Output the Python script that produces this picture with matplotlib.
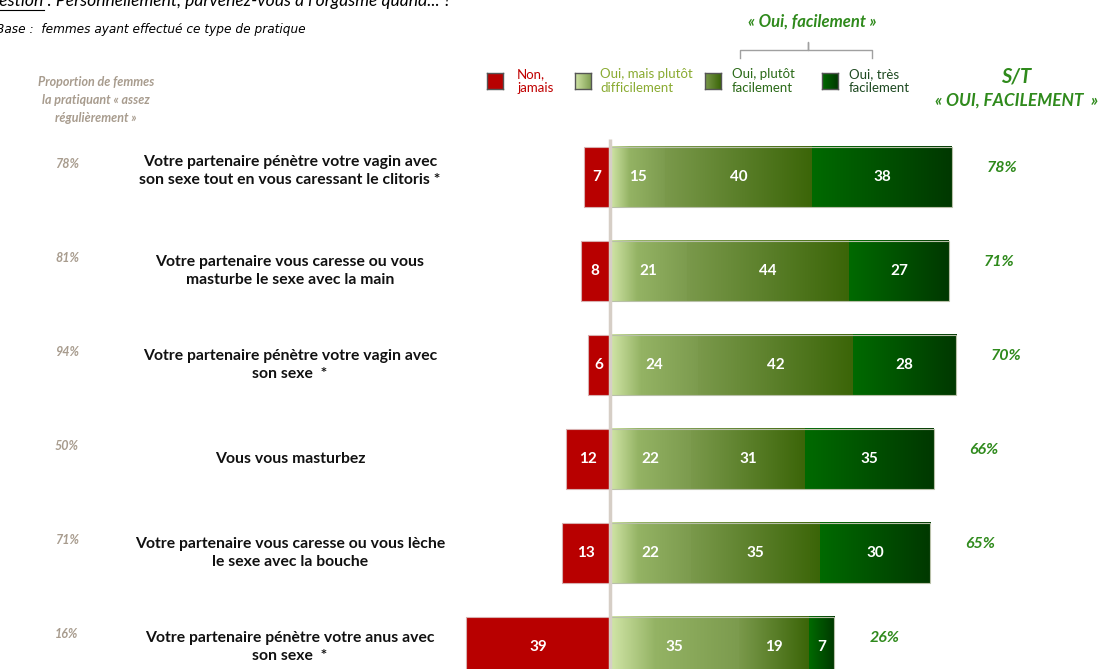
import matplotlib.pyplot as plt
import numpy as np
from matplotlib.colors import LinearSegmentedColormap
from matplotlib.transforms import blended_transform_factory

# data
rows = [
    "Votre partenaire pénètre votre vagin avec\nson sexe tout en vous caressant le clitoris *",
    "Votre partenaire vous caresse ou vous\nmasturbe le sexe avec la main",
    "Votre partenaire pénètre votre vagin avec\nson sexe  *",
    "Vous vous masturbez",
    "Votre partenaire vous caresse ou vous lèche\nle sexe avec la bouche",
    "Votre partenaire pénètre votre anus avec\nson sexe  *",
]
practice = ["78%", "81%", "94%", "50%", "71%", "16%"]
non_jamais = [7, 8, 6, 12, 13, 39]
difficilement = [15, 21, 24, 22, 22, 35]
plutot_facilement = [40, 44, 42, 31, 35, 19]
tres_facilement = [38, 27, 28, 35, 30, 7]
sous_total = ["78%", "71%", "70%", "66%", "65%", "26%"]

W, H = 1099, 669
PX = 3.68          # pixels per percentage point
ZERO = 610         # pixel position of the zero line
ROW0, STEP = 177, 94

plt.rcParams['font.family'] = ['Lato', 'DejaVu Sans']
HEAD = ['DejaVu Sans']

fig = plt.figure(figsize=(W / 100, H / 100), dpi=100)
ax = fig.add_axes([0, 0, 1, 1])
ax.axis('off')

GREEN = '#2f8a1c'
RED_TXT = '#c00000'
GREY = '#a89c8e'

cmaps = [
    LinearSegmentedColormap.from_list('c1', [(0, '#d2e6a8'), (0.35, '#94b364'), (1, '#7c9b4e')]),
    LinearSegmentedColormap.from_list('c2', [(0, '#7a994b'), (1, '#3b6508')]),
    LinearSegmentedColormap.from_list('c3', [(0, '#006a00'), (1, '#003800')]),
]
grad = np.linspace(0, 1, 256).reshape(1, -1)
bh = 0.64

for i in range(len(rows)):
    # negative part
    ax.barh(i, -non_jamais[i], height=bh, color='#b80000', edgecolor='#d8b0b0',
            linewidth=0.8, zorder=2)
    ax.text(-non_jamais[i] / 2, i, str(non_jamais[i]), color='white', ha='center',
            va='center', fontsize=11, fontweight='bold', zorder=5)
    left = 0
    for val, cm in zip([difficilement[i], plutot_facilement[i], tres_facilement[i]], cmaps):
        ax.imshow(grad, cmap=cm, aspect='auto', extent=(left, left + val, i + bh / 2, i - bh / 2),
                  zorder=2, interpolation='bilinear')
        ax.text(left + val / 2, i, str(val), color='white', ha='center', va='center',
                fontsize=11, fontweight='bold', zorder=5)
        left += val
    ax.barh(i, left, height=bh, fill=False, edgecolor='#b8c0a8', linewidth=0.8, zorder=3)
    # S/T percentage
    ax.text(left + 9.5, i - 0.1, sous_total[i], color=GREEN, ha='left', va='center',
            fontsize=11.5, fontweight='bold', style='italic')

ax.set_xlim(-ZERO / PX, (W - ZERO) / PX)
ax.set_ylim((H - ROW0) / STEP, -ROW0 / STEP)

# zero line
ax.plot([0, 0], [-0.4, len(rows)], color='#d6cec6', lw=2.5, zorder=4, solid_capstyle='butt')

# row labels and practice share
tr = blended_transform_factory(fig.transFigure, ax.transData)
for i, (lab, p) in enumerate(zip(rows, practice)):
    ax.text(290 / W, i - (0.06 if i == 0 else 0), lab, transform=tr, ha='center',
            va='center', fontsize=11.3, fontweight='bold', linespacing=1.35, color='#111111')
    ax.text(67 / W, i - 0.14, p, transform=tr, ha='center', va='center', fontsize=9,
            fontweight='bold', style='italic', color=GREY)

# header texts
def ftext(x, y, s, **kw):
    fig.text(x / W, 1 - y / H, s, **kw)

ftext(-23, 6, "Question : Personnellement, parvenez-vous à l'orgasme quand... ?",
      fontsize=12.6, style='italic', va='baseline', ha='left')
fig.add_artist(plt.Line2D([0, 44 / W], [1 - 10 / H] * 2, color='black', lw=0.8))
ftext(-4, 29, "Base :  femmes ayant effectué ce type de pratique", fontsize=8.7,
      style='italic', va='center', ha='left', family=HEAD)
ftext(96, 100, "Proportion de femmes\nla pratiquant « assez\nrégulièrement »", fontsize=9,
      fontweight='bold', style='italic', color=GREY, ha='center', va='center',
      linespacing=1.55)

# legend
legend = [
    ("Non,\njamais", ['#b80000', '#b80000'], RED_TXT, 487, 517),
    ("Oui, mais plutôt\ndifficilement", ['#d2e6a8', '#7c9b4e'], '#8aab32', 575, 600),
    ("Oui, plutôt\nfacilement", ['#7a994b', '#3b6508'], '#2b6a18', 705, 732),
    ("Oui, très\nfacilement", ['#006a00', '#003800'], '#1f4a22', 822, 849),
]
for lab, cols, tc, sx, tx in legend:
    lax = fig.add_axes([sx / W, 1 - 89 / H, 16 / W, 16 / H])
    lax.imshow(grad, cmap=LinearSegmentedColormap.from_list('l', cols), aspect='auto')
    lax.set_xticks([])
    lax.set_yticks([])
    for s in lax.spines.values():
        s.set_color('#555555')
        s.set_linewidth(1)
    ftext(tx, 81, lab, fontsize=9.5, color=tc, ha='left', va='center', linespacing=1.1)

ftext(812, 22, "« Oui, facilement »", fontsize=12, fontweight='bold', style='italic',
      color=GREEN, ha='center', va='center')
bx = np.array([740, 740, 808, 808, 808, 872, 872]) / W
by = 1 - np.array([58, 50, 50, 42, 50, 50, 58]) / H
fig.add_artist(plt.Line2D(bx, by, color='#a0a0a0', lw=1))

ftext(1016, 76, "S/T", fontsize=14.5, fontweight='bold', style='italic', color=GREEN,
      ha='center', va='center')
ftext(935, 101, "« OUI, FACILEMENT  »", fontsize=12.4, fontweight='bold', style='italic',
      color=GREEN, ha='left', va='center')

fig.savefig('out.png', dpi=100)
